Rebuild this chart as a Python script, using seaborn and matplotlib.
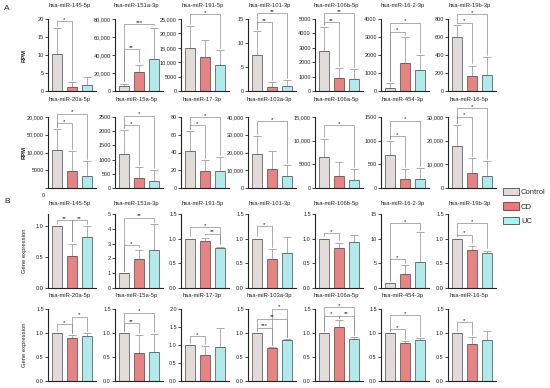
import numpy as np
import pandas as pd
import matplotlib
matplotlib.use("Agg")
import matplotlib.pyplot as plt
import matplotlib.patches as mpatches
import seaborn as sns

groups = ["Control", "CD", "UC"]
palette = ["#E2DBD8", "#F77272", "#A6F4F6"]

mirnas = [
    "hsa-miR-145-5p", "hsa-miR-151a-3p", "hsa-miR-191-5p", "hsa-miR-101-3p",
    "hsa-miR-106b-5p", "hsa-miR-16-2-3p", "hsa-miR-19b-3p",
    "hsa-miR-20a-5p", "hsa-miR-15a-5p", "hsa-miR-17-3p", "hsa-miR-103a-3p",
    "hsa-miR-106a-5p", "hsa-miR-454-3p", "hsa-miR-16-5p",
]

# A: sequencing counts (RPM), mean and upper SD
rpm_mean = [
    [10.3, 1.0, 1.6], [5200, 21200, 36100], [15000, 11800, 9000], [7.6, 0.9, 1.1],
    [2750, 870, 800], [180, 1560, 1180], [600, 163, 181],
    [10700, 4900, 3400], [1180, 350, 255], [41.8, 18.9, 18.9], [19200, 10700, 6600],
    [6600, 2640, 1740], [694, 194, 194], [17800, 6400, 5060],
]
rpm_sd = [
    [7.2, 1.5, 2.2], [3000, 8200, 34300], [7600, 6000, 5300], [4.9, 1.0, 1.2],
    [1680, 730, 740], [240, 1440, 820], [135, 119, 199],
    [5900, 5400, 4300], [870, 400, 380], [21.9, 12.8, 16.1], [10300, 10000, 6200],
    [3650, 2920, 2230], [296, 201, 236], [8900, 6200, 6340],
]
rpm_ymax = [20, 80000, 25000, 15, 5000, 4000, 800, 20000, 2500, 80, 40000, 15000, 1500, 30000]
rpm_step = [5, 20000, 5000, 5, 1000, 1000, 200, 5000, 500, 20, 10000, 5000, 500, 10000]
rpm_sig = [
    [(0, 1, "*", 19.4)],
    [(0, 1, "**", 46500), (0, 2, "***", 74000)],
    [(0, 2, "*", 26700)],
    [(0, 1, "**", 14.3), (0, 2, "**", 16.2)],
    [(0, 1, "**", 4770), (0, 2, "**", 5390)],
    [(0, 1, "*", 3300), (0, 2, "*", 3800)],
    [(0, 1, "*", 760), (0, 2, "*", 855)],
    [(0, 1, "*", 18300), (0, 2, "*", 20900)],
    [(0, 1, "*", 2220), (0, 2, "*", 2545)],
    [(0, 1, "*", 71), (0, 2, "*", 80)],
    [(0, 2, "*", 37500)],
    [(0, 2, "*", 13250)],
    [(0, 1, "*", 1090), (0, 2, "*", 1420)],
    [(0, 1, "*", 30200), (0, 2, "*", 33600)],
]

# B: qPCR relative expression
expr_mean = [
    [1.0, 0.52, 0.83], [1.0, 1.96, 2.56], [1.0, 0.95, 0.82], [1.0, 0.58, 0.71],
    [1.0, 0.81, 0.94], [1.0, 2.76, 5.24], [1.0, 0.77, 0.71],
    [1.0, 0.89, 0.94], [1.0, 0.585, 0.60], [1.0, 0.72, 0.95], [1.0, 0.68, 0.85],
    [1.0, 1.13, 0.87], [1.0, 0.80, 0.85], [1.0, 0.78, 0.85],
]
expr_sd = [
    [0, 0.20, 0.17], [0, 0.64, 1.74], [0, 0.07, 0.02], [0, 0.21, 0.32],
    [0, 0.11, 0.13], [0, 1.84, 6.06], [0, 0.09, 0.05],
    [0, 0.065, 0.05], [0, 0.365, 0.38], [0, 0.25, 0.51], [0, 0.02, 0.02],
    [0, 0.14, 0.05], [0, 0.04, 0.04], [0, 0.14, 0.20],
]
expr_ymax = [1.2, 5, 1.5, 1.5, 1.5, 15, 1.5, 1.5, 1.5, 2.0, 1.5, 1.5, 1.5, 1.5]
expr_step = [0.5, 1, 0.5, 0.5, 0.5, 5, 0.5, 0.5, 0.5, 0.5, 0.5, 0.5, 0.5, 0.5]
expr_sig = [
    [(0, 1, "**", 1.10), (1, 2, "**", 1.10)],
    [(0, 1, "*", 2.9), (0, 2, "**", 4.75)],
    [(0, 2, "*", 1.23), (1, 2, "**", 1.10)],
    [(0, 1, "*", 1.25)],
    [(0, 1, "*", 1.11)],
    [(0, 1, "*", 5.9), (0, 2, "*", 13.2)],
    [(0, 1, "*", 1.08), (0, 2, "*", 1.31)],
    [(0, 1, "*", 1.18), (1, 2, "*", 1.34)],
    [(0, 1, "**", 1.2), (0, 2, "*", 1.42)],
    [(0, 1, "*", 1.25)],
    [(0, 1, "***", 1.11), (0, 2, "**", 1.30), (1, 2, "*", 1.51)],
    [(0, 1, "*", 1.36), (1, 2, "**", 1.36), (0, 2, "*", 1.54)],
    [(0, 1, "*", 1.08), (0, 2, "*", 1.37)],
    [(0, 1, "*", 1.22)],
]

EDGE = "#4a4a4a"
ERR = "#8c8c8c"


def rpm_label(v):
    return f"{int(v):,}" if v >= 10000 else f"{v:g}"


def expr_label_fn(step):
    if step < 1:
        return lambda v: f"{v:.1f}"
    return lambda v: f"{v:g}"


def draw_panel(ax, means, sds, ymax, step, sig, labeler):
    df = pd.DataFrame({"group": groups, "value": means})
    sns.barplot(data=df, x="group", y="value", hue="group", order=groups,
                hue_order=groups, palette=palette, width=0.67, edgecolor=EDGE,
                linewidth=0.5, errorbar=None, legend=False, ax=ax)
    ax.errorbar(np.arange(3), means, yerr=[np.zeros(3), sds], fmt="none",
                ecolor=ERR, elinewidth=0.5, capsize=3, capthick=0.5, zorder=0.8)

    gap = 0.03 * ymax
    for i, j, lab, y in sig:
        yi = min(y, means[i] + sds[i] + gap)
        yj = min(y, means[j] + sds[j] + gap)
        ax.plot([i, i, j, j], [yi, y, y, yj], color=ERR, lw=0.5, clip_on=False)
        ax.annotate(lab, ((i + j) / 2, y), xytext=(0, -0.5), textcoords="offset points",
                    ha="center", va="bottom", fontsize=4.5, color="#222222",
                    annotation_clip=False)

    ticks = np.arange(0, ymax + 1e-9, step)
    ax.set_ylim(0, ymax)
    ax.set_yticks(ticks)
    ax.set_yticklabels([labeler(t) for t in ticks])
    ax.set_xlim(-0.6, 2.6)
    ax.set_xticks([])
    ax.set_xlabel("")
    ax.set_ylabel("")
    sns.despine(ax=ax)
    for s in ["left", "bottom"]:
        ax.spines[s].set_linewidth(0.8)
        ax.spines[s].set_color("#222222")
    ax.tick_params(axis="y", length=2, width=0.6, pad=1, labelsize=4, colors="#222222")


sns.set_style("ticks")
plt.rcParams["font.family"] = ["Liberation Sans", "DejaVu Sans"]

W, H = 550, 388
fig = plt.figure(figsize=(W / 100, H / 100), dpi=100)

col_left = [48, 115, 181, 248, 315, 381, 448]
ax_w = 48
rows = [(19, 91), (117, 188), (214, 288), (309, 381)]
title_off = [13, 17, 10, 14]

for r, (top, bot) in enumerate(rows):
    for c in range(7):
        k = (r % 2) * 7 + c
        ax = fig.add_axes([col_left[c] / W, 1 - bot / H, ax_w / W, (bot - top) / H])
        if r < 2:
            draw_panel(ax, rpm_mean[k], rpm_sd[k], rpm_ymax[k], rpm_step[k],
                       rpm_sig[k], rpm_label)
        else:
            draw_panel(ax, expr_mean[k], expr_sd[k], expr_ymax[k], expr_step[k],
                       expr_sig[k], expr_label_fn(expr_step[k]))
        fig.text((col_left[c] + ax_w * 0.45) / W, 1 - (top - title_off[r]) / H,
                 mirnas[k], ha="center", va="center", fontsize=4.2, color="#222222")
        # odd tick labels in the original figure
        if r == 1 and c == 0:
            labs = [t.get_text() for t in ax.get_yticklabels()]
            labs[0] = ""
            labs[3] = "50,000"
            ax.set_yticklabels(labs)
            ax.text(-0.1, -0.1, "0", transform=ax.transAxes, ha="center", va="center",
                    fontsize=4, color="#222222")
    ylab = "RPM" if r < 2 else "Gene expression"
    fig.text(24 / W, 1 - (top + bot) / 2 / H, ylab, rotation=90, ha="center",
             va="center", fontsize=4.2, fontweight="bold" if r < 2 else "normal",
             color="#222222")

fig.text(7 / W, 1 - 8 / H, "A", fontsize=6, ha="center", va="center")
fig.text(7 / W, 1 - 201 / H, "B", fontsize=6, ha="center", va="center")

handles = [mpatches.Patch(facecolor=col, edgecolor=EDGE, linewidth=0.6, label=g)
           for g, col in zip(groups, palette)]
fig.legend(handles=handles, loc="upper left", bbox_to_anchor=(503 / W, 1 - 188 / H),
           frameon=False, fontsize=5.5, handlelength=2.1, handleheight=1.1,
           labelspacing=0.8, handletextpad=0.25, borderaxespad=0, borderpad=0)

fig.savefig("out.png", dpi=100)
